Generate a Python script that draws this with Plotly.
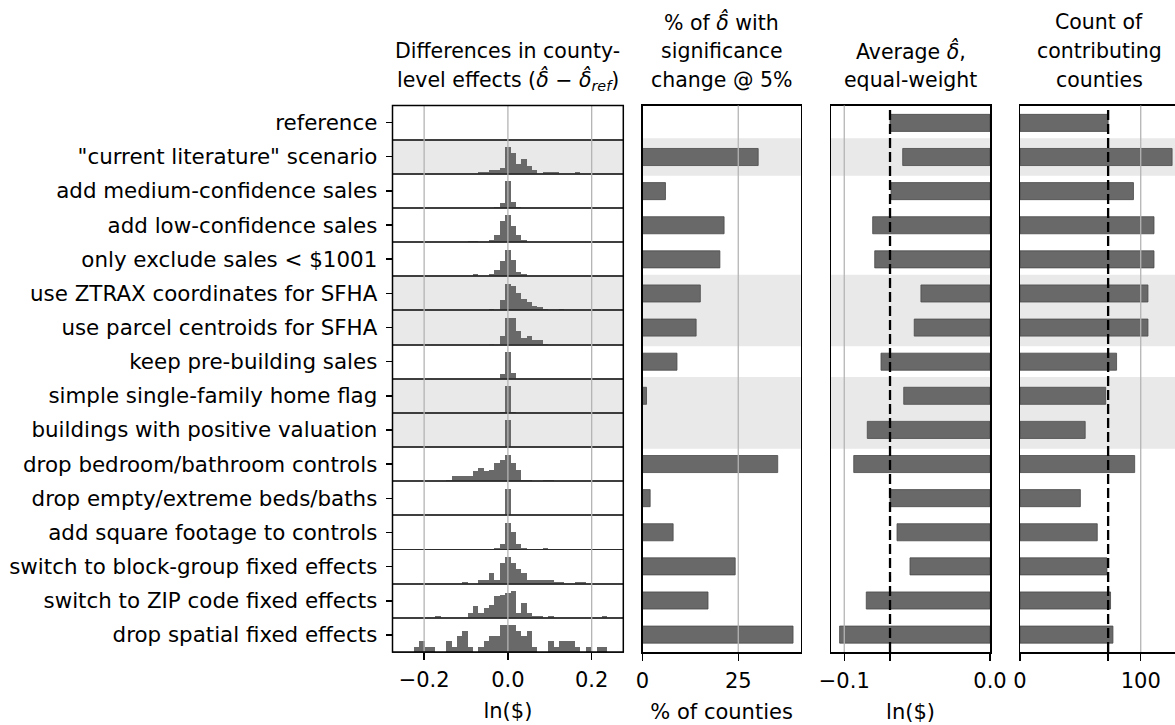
import numpy as np
import plotly.graph_objects as go

# ---------------- data ----------------
scenarios = [
    "reference",
    "\"current literature\" scenario",
    "add medium-confidence sales",
    "add low-confidence sales",
    "only exclude sales < $1001",
    "use ZTRAX coordinates for SFHA",
    "use parcel centroids for SFHA",
    "keep pre-building sales",
    "simple single-family home flag",
    "buildings with positive valuation",
    "drop bedroom/bathroom controls",
    "drop empty/extreme beds/baths",
    "add square footage to controls",
    "switch to block-group fixed effects",
    "switch to ZIP code fixed effects",
    "drop spatial fixed effects",
]
shaded_rows = [1, 5, 6, 8, 9]

pct_sig_change = [0, 30.2, 6.0, 21.3, 20.2, 15.1, 14.0, 9.0, 1.05, 0, 35.3, 2.0, 8.0, 24.2, 17.1, 39.3]
avg_delta = [-0.0686, -0.0599, -0.0679, -0.0805, -0.0791, -0.0474, -0.0520, -0.0748,
             -0.0592, -0.0842, -0.0935, -0.0686, -0.0638, -0.0549, -0.0849, -0.1032]
county_count = [73, 126, 94, 111, 111, 106, 106, 80, 71, 54, 95, 50, 64, 72, 75, 77]

# histogram counts of (delta - delta_ref), 39 bins spanning -0.25 .. 0.25
hist_reference = [0] * 39
hist_current_lit = [0, 0, 0, 0, 0, 0, 0, 0, 0, 0,  0, 0, 0, 0, 1, 1, 2, 2, 3, 13,
                    10, 5, 7, 4, 2, 0, 1, 1, 1, 0,  0, 0, 1, 0, 0, 0, 0, 0, 0]
hist_medium = [0, 0, 0, 0, 0, 0, 0, 0, 0, 0,  0, 0, 0, 0, 0, 0, 0, 1, 7, 40,
               9, 1, 0, 0, 0, 0, 0, 0, 0, 0,  0, 0, 0, 0, 0, 0, 0, 0, 0]
hist_low = [0, 0, 0, 0, 0, 0, 0, 0, 0, 0,  0, 0, 1, 1, 0, 0, 3, 8, 25, 31,
            19, 8, 3, 0, 0, 0, 0, 0, 0, 0,  0, 0, 0, 0, 0, 0, 0, 0, 0]
hist_only_1001 = [0, 0, 0, 0, 0, 0, 0, 0, 0, 0,  0, 0, 0, 2, 0, 0, 2, 6, 15, 27,
                  16, 4, 2, 0, 0, 0, 0, 0, 0, 0,  0, 0, 0, 0, 0, 0, 0, 0, 0]
hist_ztrax = [0, 0, 0, 0, 0, 0, 0, 0, 0, 0,  0, 0, 0, 0, 0, 0, 1, 0, 11, 27,
              25, 18, 12, 9, 5, 3, 1, 0, 0, 1,  0, 0, 0, 0, 0, 0, 0, 0, 0]
hist_parcel = [0, 0, 0, 0, 0, 0, 0, 0, 0, 0,  0, 0, 0, 0, 0, 0, 1, 0, 10, 32,
               32, 16, 8, 10, 5, 5, 1, 0, 0, 0,  0, 0, 0, 0, 0, 0, 0, 0, 0]
hist_pre_building = [0, 0, 0, 0, 0, 0, 0, 0, 0, 0,  0, 0, 0, 0, 0, 0, 0, 0, 5, 27,
                     6, 0, 0, 0, 0, 0, 0, 0, 0, 0,  0, 0, 0, 0, 0, 0, 0, 0, 0]
hist_simple_sfh = [0, 0, 0, 0, 0, 0, 0, 0, 0, 0,  0, 0, 0, 0, 0, 0, 0, 0, 1, 60,
                   1, 0, 0, 0, 0, 0, 0, 0, 0, 0,  0, 0, 0, 0, 0, 0, 0, 0, 0]
hist_positive_val = [0, 0, 0, 0, 0, 0, 0, 0, 0, 0,  0, 0, 0, 0, 0, 0, 0, 0, 0, 50,
                     0, 0, 0, 0, 0, 0, 0, 0, 0, 0,  0, 0, 0, 0, 0, 0, 0, 0, 0]
hist_drop_bedbath = [0, 0, 0, 0, 0, 0, 0, 0, 1, 3,  3, 3, 3, 6, 8, 6, 7, 11, 13, 16,
                     11, 7, 1, 1, 0, 0, 1, 1, 0, 0,  0, 0, 0, 0, 0, 0, 0, 0, 0]
hist_drop_empty = [0, 0, 0, 0, 0, 0, 0, 0, 0, 0,  0, 0, 0, 0, 0, 0, 0, 0, 0, 45,
                   0, 1, 0, 0, 0, 0, 0, 0, 0, 0,  0, 0, 0, 0, 0, 0, 0, 0, 0]
hist_sqft = [0, 0, 0, 0, 0, 0, 0, 0, 0, 0,  0, 0, 0, 0, 0, 0, 0, 1, 4, 20,
             13, 4, 1, 0, 0, 0, 1, 0, 0, 0,  0, 0, 0, 0, 0, 0, 0, 0, 0]
hist_block_group = [0, 0, 0, 0, 0, 0, 0, 0, 0, 0,  0, 1, 0, 0, 2, 2, 5, 2, 10, 13,
                    10, 7, 5, 2, 2, 2, 2, 2, 1, 1,  0, 0, 1, 1, 0, 0, 0, 0, 0]
hist_zip = [0, 0, 0, 0, 0, 0, 1, 0, 0, 0,  0, 0, 3, 7, 3, 6, 8, 13, 14, 15,
            16, 3, 9, 3, 1, 1, 0, 1, 0, 0,  0, 0, 0, 0, 0, 0, 0, 1, 0]
hist_no_spatial = [0, 0, 1, 2, 1, 1, 0, 0, 2, 1,  3, 4, 1, 0, 1, 2, 3, 3, 5, 5,
                   5, 4, 3, 4, 1, 0, 0, 2, 1, 2,  2, 2, 1, 0, 1, 0, 1, 1, 0]

hist_rows = [hist_reference, hist_current_lit, hist_medium, hist_low, hist_only_1001,
             hist_ztrax, hist_parcel, hist_pre_building, hist_simple_sfh, hist_positive_val,
             hist_drop_bedbath, hist_drop_empty, hist_sqft, hist_block_group, hist_zip,
             hist_no_spatial]

hist_ticks = [-0.2, 0.0, 0.2]
hist_ticktext = ["\u22120.2", "0.0", "0.2"]
pct_ticks = [0, 25]
pct_ticktext = ["0", "25"]
avg_ticks = [-0.1, 0.0]
avg_ticktext = ["\u22120.1", "0.0"]
cnt_ticks = [0, 100]
cnt_ticktext = ["0", "100"]

# ---------------- layout geometry (screen pixels -> figure coords) ----------------
W, H = 1175, 725
FONT = "DejaVu Sans"
FS = 21
FS_LABEL = 21.4
FS_TITLE = 20.5
BAR = "#696969"
BAR_EDGE = "#4a4a4a"
SHADE = "#e9e9e9"
GRID = "#b4b4b4"

bin_edges = np.linspace(-0.25, 0.25, 40)
bin_centers = (bin_edges[:-1] + bin_edges[1:]) / 2
bin_width = bin_edges[1] - bin_edges[0]

TOP, BOT = 105.5, 652.0
n_rows = len(scenarios)
rh = (BOT - TOP) / n_rows


def px_x(p):
    return min(1.0, max(0.0, p / W))


def px_y(p):
    return min(1.0, max(0.0, 1 - p / H))


P1 = [px_x(392.5), px_x(623.3)]
P2 = [px_x(642.5), px_x(800.7)]
P3 = [px_x(831.0), px_x(990.0)]
P4 = [px_x(1020.0), 1.0]
YDOM = [px_y(BOT), px_y(TOP)]

fig = go.Figure()
layout = {}
shapes = []

tickfont = dict(family=FONT, size=FS, color="black")
labelfont = dict(family=FONT, size=FS_LABEL, color="black")
TITLE_STANDOFF = 12

# ---------------- panel 1 : histogram rows ----------------
for i, hist in enumerate(hist_rows):
    n = i + 1
    s = "" if n == 1 else str(n)
    last = i == n_rows - 1
    fig.add_trace(go.Bar(x=bin_centers, y=hist, width=bin_width,
                         marker=dict(color=BAR, line=dict(width=0)),
                         xaxis="x" + s, yaxis="y" + s, showlegend=False,
                         hoverinfo="skip"))
    ymax = max(hist) / 0.78 if max(hist) > 0 else 1.0
    dom = [px_y(TOP + (i + 1) * rh), px_y(TOP + i * rh)]
    xa = dict(domain=P1, range=[-0.2755, 0.2755], anchor="y" + s,
              showgrid=False, zeroline=False, showline=True, mirror=True,
              linecolor="#2a2a2a", linewidth=0.9, fixedrange=True,
              tickvals=hist_ticks, ticktext=hist_ticktext,
              ticks="outside" if last else "", ticklen=7, tickwidth=1.5,
              tickcolor="black", showticklabels=last, tickfont=tickfont,
              ticklabelstandoff=2, automargin=False)
    if last:
        xa["title"] = dict(text="ln($)", font=tickfont, standoff=TITLE_STANDOFF)
    layout["xaxis" + s] = xa
    layout["yaxis" + s] = dict(domain=dom, range=[0, ymax], anchor="x" + s,
                               showgrid=False, zeroline=False, showline=True,
                               mirror=True, linecolor="#2a2a2a", linewidth=0.9,
                               tickvals=[ymax / 2], ticktext=[scenarios[i]],
                               ticks="outside", ticklen=6, tickwidth=1.5,
                               tickcolor="black", tickfont=labelfont,
                               ticklabelstandoff=4, fixedrange=True, automargin=False)
    if i in shaded_rows:
        shapes.append(dict(type="rect", xref="x" + s + " domain", yref="y" + s + " domain",
                           x0=0, x1=1, y0=0, y1=1, fillcolor=SHADE,
                           line=dict(width=0), layer="below"))

for t in hist_ticks:
    shapes.append(dict(type="line", xref="x16", yref="paper", x0=t, x1=t,
                       y0=YDOM[0], y1=YDOM[1], line=dict(color=GRID, width=1.3),
                       layer="above"))
# outer frame of the histogram panel
shapes.append(dict(type="rect", xref="paper", yref="paper", x0=P1[0], x1=P1[1],
                   y0=YDOM[0], y1=YDOM[1], line=dict(color="black", width=1.5),
                   fillcolor="rgba(0,0,0,0)", layer="above"))


# ---------------- panels 2-4 : horizontal bars ----------------
def hbar_axes(k, dom, xrange, ticks, ticktext, title, ref_tick=None, mirror_y=True):
    s = str(k)
    xa = dict(domain=dom, range=xrange, anchor="y" + s,
              showgrid=False, zeroline=False, showline=True,
              mirror=True, linecolor="black", linewidth=1.5,
              tickvals=ticks, ticktext=ticktext, ticks="outside",
              ticklen=7, tickwidth=1.5, tickcolor="black",
              tickfont=tickfont, fixedrange=True, ticklabelstandoff=2,
              automargin=False)
    if ref_tick is not None:
        xa["minor"] = dict(tickvals=[ref_tick], ticks="outside", ticklen=7,
                           tickwidth=1.5, tickcolor="black", showgrid=False)
    if title:
        xa["title"] = dict(text=title, font=tickfont, standoff=TITLE_STANDOFF)
    layout["xaxis" + s] = xa
    layout["yaxis" + s] = dict(domain=YDOM, anchor="x" + s, type="category",
                               categoryorder="array", categoryarray=scenarios,
                               range=[n_rows - 0.49, -0.51], showgrid=False,
                               zeroline=False, showline=True, mirror=mirror_y,
                               linecolor="black", linewidth=1.5, ticks="",
                               showticklabels=False, fixedrange=True, automargin=False)
    for r in shaded_rows:
        shapes.append(dict(type="rect", xref="x" + s + " domain", yref="y" + s,
                           x0=0, x1=1, y0=r - 0.55, y1=r + 0.55, fillcolor=SHADE,
                           line=dict(width=0), layer="below"))


def hbar_trace(k, values):
    s = str(k)
    fig.add_trace(go.Bar(x=values, y=scenarios, orientation="h", width=0.5,
                         marker=dict(color=BAR, line=dict(color=BAR_EDGE, width=0.8)),
                         xaxis="x" + s, yaxis="y" + s, showlegend=False,
                         hoverinfo="skip"))


def grid_line(k, x):
    s = str(k)
    shapes.append(dict(type="line", xref="x" + s, yref="y" + s + " domain", x0=x, x1=x,
                       y0=0, y1=1, line=dict(color=GRID, width=1.3), layer="above"))


def ref_line(k, x):
    s = str(k)
    shapes.append(dict(type="line", xref="x" + s, yref="y" + s + " domain", x0=x, x1=x,
                       y0=0, y1=1, line=dict(color="black", width=2.3, dash="10px,4px"),
                       layer="above"))


hbar_trace(17, pct_sig_change)
hbar_axes(17, P2, [0, 41.3], pct_ticks, pct_ticktext, "% of counties")
grid_line(17, pct_ticks[1])

hbar_trace(18, avg_delta)
hbar_axes(18, P3, [-0.1091, 0.0], avg_ticks, avg_ticktext, "ln($)", ref_tick=avg_delta[0])
grid_line(18, avg_ticks[0])
ref_line(18, avg_delta[0])

hbar_trace(19, county_count)
hbar_axes(19, P4, [0, 128.4], cnt_ticks, cnt_ticktext, None,
          ref_tick=county_count[0], mirror_y=False)
grid_line(19, cnt_ticks[1])
ref_line(19, county_count[0])

# ---------------- titles ----------------
titles = [
    ((392.5 + 623.3) / 2, ["Differences in county-",
                           "level effects (<i>δ̂</i> − <i>δ̂</i><sub><i>ref</i></sub>)"]),
    ((642.5 + 800.7) / 2, ["% of <i>δ̂</i> with", "significance", "change @ 5%"]),
    ((831.0 + 990.0) / 2, ["Average <i>δ̂</i>,", "equal-weight"]),
    (1099.0, ["Count of", "contributing", "counties"]),
]
line_centers = [22, 51, 80]
annotations = []
for cx, lines in titles:
    offs = line_centers[-len(lines):]
    for txt, yc in zip(lines, offs):
        annotations.append(dict(text=txt, xref="paper", yref="paper", x=px_x(cx),
                                y=px_y(yc), xanchor="center", yanchor="middle",
                                showarrow=False, font=dict(family=FONT, size=FS_TITLE,
                                                           color="black")))

fig.update_layout(**layout)
fig.update_layout(
    width=W, height=H, margin=dict(l=0, r=0, t=0, b=0, autoexpand=False),
    paper_bgcolor="white", plot_bgcolor="white",
    font=dict(family=FONT, size=FS, color="black"),
    bargap=0, shapes=shapes, annotations=annotations, showlegend=False,
)

page_css = ("document.documentElement.style.overflow='hidden';"
            "document.body.style.overflow='hidden';"
            "document.body.style.margin='0';"
            "document.body.style.padding='0';")
fig.write_html("out.html", post_script=page_css,
               config={"displayModeBar": False, "staticPlot": True})
